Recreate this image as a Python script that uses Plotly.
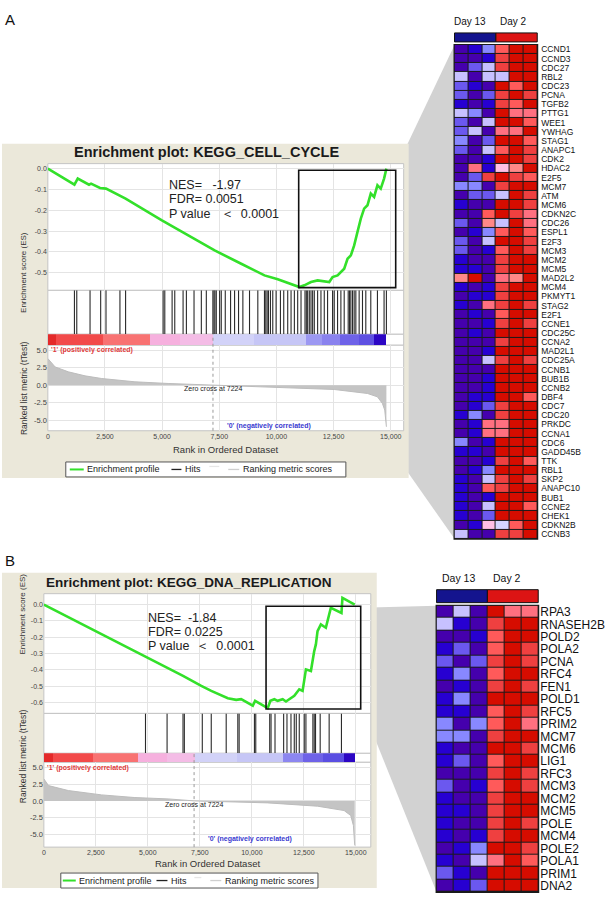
import plotly.graph_objects as go

W, H = 609, 899
FONT = "Liberation Sans, Arial, sans-serif"

# ---------------- data: panel A (KEGG_CELL_CYCLE) ----------------
es_a_rank = [0, 1163, 1308, 1802, 1890, 2282, 2544, 3081, 3401, 4971, 6134, 7297, 8459, 9477,
             10058, 10640, 11003, 11221, 11512, 11802, 12311, 12456, 12675, 12965, 13111, 13256,
             13401, 13547, 13692, 13837, 13983, 14128, 14273, 14419, 14564, 14709, 14811]
es_a_val = [0.0, -0.077, -0.048, -0.077, -0.072, -0.093, -0.096, -0.128, -0.144, -0.248, -0.321,
            -0.393, -0.457, -0.513, -0.532, -0.553, -0.569, -0.561, -0.545, -0.537, -0.545, -0.521,
            -0.513, -0.481, -0.433, -0.417, -0.369, -0.304, -0.240, -0.192, -0.176, -0.120, -0.136,
            -0.080, -0.096, -0.048, 0.0]
hits_a = [1163, 1265, 1846, 2311, 2544, 3154, 3401, 5044, 5116, 5436, 5552, 5916, 6061, 6395, 6715,
          6933, 7220, 7268, 7311, 7369, 7515, 7587, 7762, 7994, 8169, 8343, 8532, 8823, 9186, 9477,
          9535, 9593, 9651, 9738, 9840, 9986, 10175, 10320, 10494, 10640, 10785, 10930, 11076, 11250,
          11308, 11366, 11439, 11512, 11584, 11657, 11802, 11948, 12093, 12238, 12456, 12529, 12675,
          12820, 12965, 13140, 13198, 13256, 13329, 13401, 13474, 13619, 13765, 13910, 14128, 14419,
          14709, 14811]
metric_a_rank = [0, 320, 901, 1628, 2355, 3808, 5262, 7224, 9622, 12529, 13983, 14419, 14637, 14739, 14811]
metric_a_val = [3.8, 2.6, 1.9, 1.33, 0.95, 0.48, 0.24, 0.0, -0.24, -0.62, -1.19, -1.67, -2.62, -3.57, -5.95]
band_a_edges = [0, 350, 2400, 4460, 5800, 7224, 9000, 11300, 12000, 12800, 13600, 14250, 14811]
band_a_colors = ['#e42a2a', '#f24a4a', '#f87272', '#f6b0de', '#f4bce6', '#d2d2f8', '#c6c6f6',
                 '#9c98f2', '#8a82ee', '#6e62e8', '#5e50e2', '#2c06c4']
box_a = dict(r0=10974, r1=15218, es0=-0.572, es1=-0.008)
stats_a = ["NES=\u00a0\u00a0 -1.97", "FDR=\u00a00.0051", "P value\u00a0\u00a0\u00a0＜\u00a0 0.0001"]
title_a = "Enrichment plot: KEGG_CELL_CYCLE"

genes_a = ["CCND1", "CCND3", "CDC27", "RBL2", "CDC23", "PCNA", "TGFB2", "PTTG1", "WEE1", "YWHAG",
           "STAG1", "ANAPC1", "CDK2", "HDAC2", "E2F5", "MCM7", "ATM", "MCM6", "CDKN2C", "CDC26",
           "ESPL1", "E2F3", "MCM3", "MCM2", "MCM5", "MAD2L2", "MCM4", "PKMYT1", "STAG2", "E2F1",
           "CCNE1", "CDC25C", "CCNA2", "MAD2L1", "CDC25A", "CCNB1", "BUB1B", "CCNB2", "DBF4", "CDC7",
           "CDC20", "PRKDC", "CCNA1", "CDC6", "GADD45B", "TTK", "RBL1", "SKP2", "ANAPC10", "BUB1",
           "CCNE2", "CHEK1", "CDKN2B", "CCNB3"]
heat_a = [
    [0, 1, 3, 9, 11, 11], [0, 0, 1, 10, 11, 11], [0, 2, 4, 10, 11, 11], [4, 0, 4, 4, 11, 11],
    [2, 1, 0, 11, 9, 11], [2, 0, 2, 10, 11, 10], [1, 0, 1, 10, 9, 11], [4, 3, 0, 11, 8, 8],
    [2, 0, 4, 11, 11, 9], [2, 4, 0, 8, 8, 11], [3, 0, 2, 11, 11, 9], [2, 0, 4, 9, 11, 10],
    [0, 0, 1, 11, 11, 10], [0, 8, 1, 6, 7, 11], [0, 2, 10, 11, 10, 9], [3, 3, 0, 10, 11, 11],
    [0, 2, 2, 4, 11, 10], [1, 0, 0, 11, 11, 10], [0, 0, 9, 11, 10, 8], [2, 0, 7, 4, 11, 8],
    [0, 1, 3, 9, 11, 9], [2, 0, 4, 11, 11, 10], [2, 0, 1, 9, 11, 10], [1, 0, 0, 10, 11, 11],
    [1, 1, 0, 10, 11, 11], [7, 11, 0, 8, 7, 11], [1, 0, 1, 10, 11, 11], [0, 1, 1, 10, 11, 11],
    [1, 0, 8, 10, 11, 10], [0, 1, 0, 9, 11, 11], [0, 0, 1, 10, 11, 10], [0, 1, 0, 11, 11, 11],
    [0, 0, 0, 10, 11, 11], [0, 0, 1, 11, 11, 11], [0, 0, 4, 10, 11, 10], [0, 0, 0, 11, 11, 11],
    [0, 0, 1, 11, 11, 11], [0, 0, 1, 11, 11, 11], [0, 1, 1, 11, 11, 9], [0, 1, 2, 10, 11, 11],
    [1, 3, 0, 10, 11, 11], [0, 1, 8, 8, 11, 11], [0, 1, 8, 8, 11, 11], [3, 0, 1, 11, 11, 11],
    [1, 1, 0, 11, 11, 11], [0, 0, 1, 10, 11, 9], [0, 1, 3, 11, 11, 11], [1, 0, 4, 10, 11, 10],
    [1, 0, 9, 10, 11, 11], [1, 0, 1, 11, 11, 11], [1, 0, 4, 11, 11, 9], [1, 0, 2, 11, 11, 11],
    [0, 1, 6, 5, 9, 11], [4, 0, 0, 10, 10, 11]]

# ---------------- data: panel B (KEGG_DNA_REPLICATION) ----------------
es_b_rank = [0, 4855, 5015, 5973, 6692, 7570, 8049, 8847, 9247, 9487, 10045, 10157, 10285, 10764,
             10892, 11083, 11243, 11483, 11642, 11882, 12042, 12281, 12441, 12601, 12841, 13000,
             13080, 13160, 13320, 13559, 13799, 14310, 14357, 14948]
es_b_val = [0.0, -0.315, -0.325, -0.386, -0.437, -0.498, -0.529, -0.574, -0.584, -0.580, -0.620,
            -0.590, -0.600, -0.635, -0.590, -0.580, -0.590, -0.580, -0.594, -0.570, -0.559, -0.519,
            -0.529, -0.397, -0.407, -0.285, -0.244, -0.163, -0.122, -0.142, -0.020, -0.051, 0.041, 0.0]
hits_b = [4887, 5925, 6691, 6755, 7618, 8049, 8768, 9326, 9390, 10125, 10189, 10860, 10924, 11115,
          11530, 11690, 11882, 12041, 12137, 12281, 12521, 12601, 12936, 13000, 13063, 13287, 13718, 14309]
metric_b_rank = [0, 224, 1182, 2779, 4376, 5973, 7224, 10764, 13159, 14437, 14756, 14884, 14948]
metric_b_val = [3.3, 2.3, 1.55, 0.9, 0.5, 0.3, 0.0, -0.3, -0.8, -1.45, -2.2, -3.7, -6.7]
band_b_edges = [0, 463, 2380, 4504, 5900, 7250, 9300, 11482, 12441, 13400, 14437, 14948]
band_b_colors = ['#e42a2a', '#f24a4a', '#f87272', '#f6b0de', '#f4bce6', '#d2d2f8', '#c6c6f6',
                 '#8c86f0', '#6e62e8', '#5a4ee2', '#2c06c4']
box_b = dict(r0=10684, r1=15235, es0=-0.64, es1=-0.01)
stats_b = ["NES=\u00a0 -1.84", "FDR=\u00a00.0225", "P value\u00a0\u00a0＜\u00a0 0.0001"]
title_b = "Enrichment plot: KEGG_DNA_REPLICATION"

genes_b = ["RPA3", "RNASEH2B", "POLD2", "POLA2", "PCNA", "RFC4", "FEN1", "POLD1", "RFC5", "PRIM2",
           "MCM7", "MCM6", "LIG1", "RFC3", "MCM3", "MCM2", "MCM5", "POLE", "MCM4", "POLE2", "POLA1",
           "PRIM1", "DNA2"]
heat_b = [
    [0, 4, 0, 11, 8, 8], [4, 1, 0, 10, 11, 11], [0, 0, 1, 9, 11, 11], [1, 2, 0, 9, 11, 10],
    [2, 0, 2, 10, 11, 10], [1, 3, 0, 9, 11, 11], [0, 1, 0, 10, 11, 10], [1, 3, 0, 11, 11, 11],
    [1, 1, 0, 9, 11, 10], [3, 0, 3, 9, 11, 8], [3, 3, 0, 10, 11, 11], [1, 0, 0, 11, 11, 10],
    [1, 2, 0, 9, 11, 11], [0, 0, 0, 10, 11, 10], [2, 0, 1, 9, 11, 10], [1, 0, 0, 10, 11, 11],
    [1, 1, 0, 10, 11, 11], [1, 0, 0, 10, 11, 10], [1, 0, 1, 10, 11, 11], [0, 1, 3, 11, 11, 10],
    [1, 0, 4, 8, 11, 9], [2, 1, 0, 11, 11, 11], [0, 1, 2, 11, 11, 11]]

# shared
palette = ['#4500AD', '#2700D1', '#6B58EF', '#8888FF', '#C7C1FF', '#D5D5FF',
           '#FFC0E5', '#FF8888', '#FF7080', '#FF5A5A', '#EF4040', '#D60C00']
rank_ticks = [0, 2500, 5000, 7500, 10000, 12500, 15000]
rank_ticktext = ["0", "2,500", "5,000", "7,500", "10,000", "12,500", "15,000"]
es_ticks_a = [0.0, -0.1, -0.2, -0.3, -0.4, -0.5]
es_ticks_b = [0.0, -0.1, -0.2, -0.3, -0.4, -0.5, -0.6]
metric_ticks = [5.0, 2.5, 0.0, -2.5, -5.0]
zero_cross = 7224
group_names = ["Day 13", "Day 2"]


def px(x):
    return x / W


def py(y):
    return 1 - y / H


fig = go.Figure()
shapes = []
annots = []

GRID = '#e4e4e4'
LINE = '#c4c4c4'


def sfx(n):
    return '' if n == 1 else str(n)


def add_gsea(n0, L, es_rank, es_val, hits, m_rank, m_val, edges, colors, box, stats, title,
             es_ticks, name_bottom):
    ids = [sfx(n0 + i) for i in range(4)]
    xs = ["x" + s for s in ids]
    ys = ["y" + s for s in ids]
    dom_x = [px(L['x0']), px(L['x1'])]
    rows = [(L['es_top'], L['es_bot']), (L['es_bot'], L['hit_bot']),
            (L['hit_bot'], L['cb_bot']), (L['cb_bot'], L['rk_bot'])]
    shapes.append(dict(type='rect', xref='paper', yref='paper', x0=0, x1=px(L['bg_x1']),
                       y0=py(L['bg_y1']), y1=py(L['bg_y0']), fillcolor='#ebe8da',
                       line_width=0, layer='below'))
    for (t, b) in rows:
        shapes.append(dict(type='rect', xref='paper', yref='paper', x0=dom_x[0], x1=dom_x[1],
                           y0=py(b), y1=py(t), fillcolor='white', line=dict(color=LINE, width=1),
                           layer='below'))
    for i in range(4):
        t, b = rows[i]
        xa = dict(domain=dom_x, range=[0, L['rmax']], anchor=ys[i], showgrid=(i != 2),
                  gridcolor=GRID, tickvals=rank_ticks, showticklabels=(i == 3), zeroline=False,
                  ticks='', showline=False, fixedrange=True)
        if i == 3:
            xa.update(ticktext=rank_ticktext, tickfont=dict(size=7, color='#444', family=FONT))
        ya = dict(domain=[py(b), py(t)], anchor=xs[i], zeroline=False, showline=False,
                  fixedrange=True, ticks='')
        if i == 0:
            ya.update(range=L['es_range'], tickvals=es_ticks, ticktext=[f"{v:.1f}" for v in es_ticks],
                      showgrid=True, gridcolor=GRID, tickfont=dict(size=7, color='#444', family=FONT))
        elif i == 3:
            ya.update(range=L['rk_range'], tickvals=metric_ticks,
                      ticktext=[f"{v:.1f}" for v in metric_ticks],
                      showgrid=True, gridcolor=GRID, tickfont=dict(size=7.5, color='#444', family=FONT))
        else:
            ya.update(range=[0, 1], showgrid=False, showticklabels=False)
        fig.update_layout({"xaxis" + ids[i]: xa, "yaxis" + ids[i]: ya})

    fig.add_trace(go.Scatter(x=es_rank, y=es_val, mode='lines', line=dict(color='#33e02a', width=2.6),
                             xaxis=xs[0], yaxis=ys[0], showlegend=False, hoverinfo='skip'))
    hx, hy = [], []
    for r in hits:
        hx += [r, r, None]
        hy += [0, 1, None]
    fig.add_trace(go.Scatter(x=hx, y=hy, mode='lines', line=dict(color='#2a2a2a', width=1.1),
                             xaxis=xs[1], yaxis=ys[1], showlegend=False, hoverinfo='skip'))
    centers = [(edges[i] + edges[i + 1]) / 2 for i in range(len(colors))]
    widths = [edges[i + 1] - edges[i] for i in range(len(colors))]
    fig.add_trace(go.Bar(x=centers, y=[1] * len(colors), width=widths, marker_color=colors,
                         marker_line_width=0, xaxis=xs[2], yaxis=ys[2], showlegend=False,
                         hoverinfo='skip'))
    fig.add_trace(go.Scatter(x=m_rank, y=m_val, mode='lines', fill='tozeroy', fillcolor='#c4c4c4',
                             line=dict(color='#bcbcbc', width=1), xaxis=xs[3], yaxis=ys[3],
                             showlegend=False, hoverinfo='skip'))
    shapes.append(dict(type='rect', xref=xs[0], yref=ys[0], x0=box['r0'], x1=box['r1'],
                       y0=box['es0'], y1=box['es1'], line=dict(color='#111', width=1.6), layer='above'))
    shapes.append(dict(type='line', xref=xs[3], yref='paper', x0=zero_cross, x1=zero_cross,
                       y0=py(L['rk_bot']), y1=py(L['hit_bot']), line=dict(color='#999', width=1, dash='dot'),
                       layer='above'))
    annots.append(dict(x=px(L['title_x']), y=py(L['title_y']), xref='paper', yref='paper',
                       text=f"<b>{title}</b>", showarrow=False, xanchor='center', yanchor='middle',
                       font=dict(size=L['title_size'], color='#1a1a1a', family=FONT)))
    for k, s in enumerate(stats):
        annots.append(dict(x=px(L['stat_x']), y=py(L['stat_y'][k]), xref='paper', yref='paper',
                           text=s, showarrow=False, xanchor='left', yanchor='middle',
                           font=dict(size=12.5, color='#222', family=FONT)))
    annots.append(dict(x=px(L['ytitle_x']), y=py((L['es_top'] + L['es_bot']) / 2 + 3), xref='paper',
                       yref='paper', text="Enrichment score (ES)", textangle=-90, showarrow=False,
                       font=dict(size=8, color='#333', family=FONT)))
    annots.append(dict(x=px(L['ytitle_x']), y=py(L['rk_title_y']), xref='paper', yref='paper',
                       text="Ranked list metric (tTest)", textangle=-90, showarrow=False,
                       font=dict(size=8.5, color='#333', family=FONT)))
    annots.append(dict(x=px(L['xtitle_x']), y=py(L['xtitle_y']), xref='paper', yref='paper',
                       text="Rank in Ordered Dataset", showarrow=False, yanchor='middle',
                       font=dict(size=9.5, color='#333', family=FONT)))
    annots.append(dict(x=px(L['pos_x']), y=py(L['pos_y']), xref='paper', yref='paper',
                       text="<b>'1' (positively correlated)</b>", showarrow=False, xanchor='left',
                       yanchor='middle', font=dict(size=7, color='#e03a3a', family=FONT)))
    annots.append(dict(x=px(L['neg_x']), y=py(L['neg_y']), xref='paper', yref='paper',
                       text="<b>'0' (negatively correlated)</b>", showarrow=False, xanchor='left',
                       yanchor='middle', font=dict(size=7, color='#3a3ad0', family=FONT)))
    annots.append(dict(x=zero_cross, y=py(L['zc_y']), xref=xs[3], yref='paper',
                       text="Zero cross at 7224", showarrow=False, xanchor='center', yanchor='middle',
                       font=dict(size=7, color='#222', family=FONT)))
    lg = L['leg']
    yc = (lg['y0'] + lg['y1']) / 2
    shapes.append(dict(type='rect', xref='paper', yref='paper', x0=px(lg['x0']), x1=px(lg['x1']),
                       y0=py(lg['y1']), y1=py(lg['y0']), fillcolor='white',
                       line=dict(color='#555', width=1), layer='below'))
    for (a, b, col, yy) in [(lg['g0'], lg['g1'], '#33e02a', yc), (lg['h0'], lg['h1'], '#222', yc),
                            (lg['f0'], lg['f1'], '#e6e6e6', yc - 3), (lg['r0'], lg['r1'], '#cfcfcf', yc)]:
        shapes.append(dict(type='line', xref='paper', yref='paper', x0=px(a), x1=px(b),
                           y0=py(yy), y1=py(yy), line=dict(color=col, width=2 if col == '#33e02a' else 1.3),
                           layer='above'))
    for (xx, t) in [(lg['g1'] + 1, "Enrichment profile"), (lg['h1'] + 2, "Hits"),
                    (lg['r1'] + 2, "Ranking metric scores")]:
        annots.append(dict(x=px(xx), y=py(yc), xref='paper', yref='paper', text=t, showarrow=False,
                           xanchor='left', yanchor='middle', font=dict(size=9, color='#222', family=FONT)))
    annots.append(dict(x=px(1), y=py(L['letter_y']), xref='paper', yref='paper', text=name_bottom,
                       showarrow=False, xanchor='left', yanchor='middle',
                       font=dict(size=15, color='#111', family=FONT)))


def add_heat(n, genes, heat, hx0, hx1, hy0, hy1, bar_y0, bar_y1, label_size, standoff, day_y,
             day_size, day_x):
    s = sfx(n)
    ncol = len(heat[0])
    nrow = len(genes)
    shapes.append(dict(type='rect', xref='paper', yref='paper', x0=px(hx0 - 1), x1=px(hx1 + 1),
                       y0=py(hy1 + 1), y1=py(hy0 - 1), fillcolor='#1a1a1a', line_width=0, layer='below'))
    cs = []
    for i, c in enumerate(palette):
        cs.append([i / len(palette), c])
        cs.append([(i + 1) / len(palette), c])
    fig.add_trace(go.Heatmap(z=heat, x=list(range(ncol)), y=list(range(nrow)), colorscale=cs,
                             zmin=-0.5, zmax=len(palette) - 0.5, showscale=False, xgap=1, ygap=1,
                             xaxis="x" + s, yaxis="y" + s, hoverinfo='skip'))
    fig.update_layout({
        "xaxis" + s: dict(domain=[px(hx0), px(hx1)], range=[-0.5, ncol - 0.5], visible=False,
                          anchor="y" + s, fixedrange=True),
        "yaxis" + s: dict(domain=[py(hy1), py(hy0)], range=[nrow - 0.5, -0.5], anchor="x" + s,
                          side='right', tickvals=list(range(nrow)), ticktext=genes, showgrid=False,
                          zeroline=False, showline=False, ticks='', ticklabelstandoff=standoff,
                          fixedrange=True, tickfont=dict(size=label_size, color='#111', family=FONT)),
    })
    mid = (hx0 + hx1) / 2
    for (a, b, col) in [(hx0, mid, '#14148e'), (mid, hx1, '#dc1414')]:
        shapes.append(dict(type='rect', xref='paper', yref='paper', x0=px(a), x1=px(b),
                           y0=py(bar_y1), y1=py(bar_y0), fillcolor=col,
                           line=dict(color='#111', width=1), layer='above'))
    for (xx, t) in zip(day_x, group_names):
        annots.append(dict(x=px(xx), y=py(day_y), xref='paper', yref='paper', text=t, showarrow=False,
                           xanchor='center', yanchor='middle',
                           font=dict(size=day_size, color='#111', family=FONT)))


for poly in [[(395, 168), (454, 44), (454, 539), (395, 455)],
             [(360, 608), (436, 606), (436, 893), (364, 714)]]:
    path = "M " + " L ".join(f"{px(x)},{py(y)}" for x, y in poly) + " Z"
    shapes.append(dict(type='path', xref='paper', yref='paper', path=path, fillcolor='#d2d2d2',
                       line_width=0, layer='below'))

LA = dict(x0=46, x1=403, rmax=15567, es_top=163, es_bot=290, hit_bot=334, cb_bot=345, rk_bot=430.7,
          es_range=[-0.585, 0.024], rk_range=[-6.52, 5.71], bg_x1=408, bg_y0=143, bg_y1=478,
          title_x=205, title_y=151, title_size=14.5, stat_x=166, stat_y=[184, 198.5, 213],
          ytitle_x=15, rk_title_y=388, xtitle_x=224, xtitle_y=449.5, pos_x=47, pos_y=349.5,
          neg_x=224, neg_y=425.5, zc_y=388.5, letter_y=19,
          leg=dict(x0=64, x1=345, y0=462, y1=477, g0=68, g1=82, h0=170, h1=180, f0=208, f1=218,
                   r0=227, r1=238))
LB = dict(x0=42, x1=370, rmax=15720, es_top=594, es_bot=714, hit_bot=754, cb_bot=763, rk_bot=848,
          es_range=[-0.667, 0.067], rk_range=[-6.95, 5.8], bg_x1=376, bg_y0=573, bg_y1=889,
          title_x=188, title_y=582.5, title_size=13.5, stat_x=144, stat_y=[618, 632, 646],
          ytitle_x=14, rk_title_y=806, xtitle_x=206, xtitle_y=864, pos_x=43, pos_y=769,
          neg_x=205, neg_y=840, zc_y=805.5, letter_y=561,
          leg=dict(x0=59, x1=317, y0=874, y1=889, g0=61, g1=74, h0=155, h1=166, f0=193, f1=200,
                   r0=209, r1=220))

add_gsea(1, LA, es_a_rank, es_a_val, hits_a, metric_a_rank, metric_a_val, band_a_edges,
         band_a_colors, box_a, stats_a, title_a, es_ticks_a, "A")
add_gsea(6, LB, es_b_rank, es_b_val, hits_b, metric_b_rank, metric_b_val, band_b_edges,
         band_b_colors, box_b, stats_b, title_b, es_ticks_b, "B")
add_heat(5, genes_a, heat_a, 454, 537, 44, 539, 32, 41, 8.5, 3, 21, 10, [469.5, 513])
add_heat(10, genes_b, heat_b, 436, 538, 606, 893, 590, 603, 12, 1, 578, 10.5, [458, 507])

fig.update_layout(width=W, height=H, margin=dict(l=0, r=0, t=0, b=0), paper_bgcolor='white',
                  plot_bgcolor='rgba(0,0,0,0)', shapes=shapes, annotations=annots,
                  showlegend=False, bargap=0, font=dict(family=FONT))
fig.write_html("out.html", config={"displayModeBar": False, "staticPlot": True},
               post_script="document.body.style.margin='0px';document.body.style.overflow='hidden';")
